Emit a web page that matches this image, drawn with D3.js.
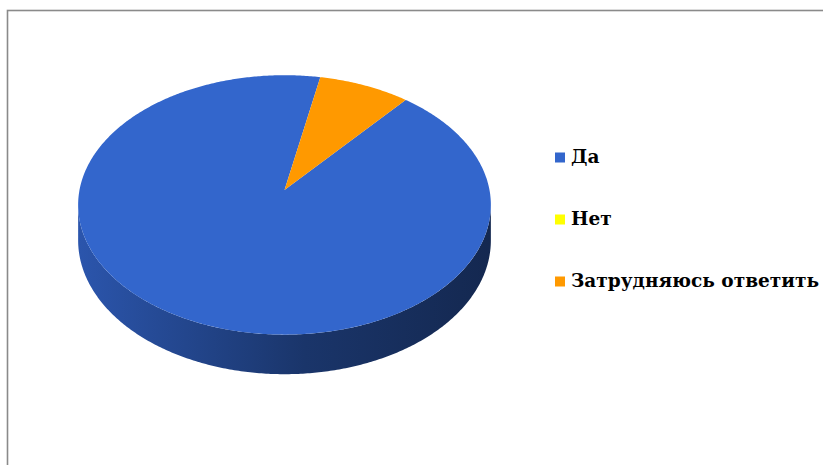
<!DOCTYPE html>
<html>
<head>
<meta charset="utf-8">
<script src="https://cdn.jsdelivr.net/npm/d3@7/dist/d3.min.js"></script>
<style>
  html, body { margin: 0; padding: 0; background: #fff; }
  svg { display: block; }
  .legend-label { font-family: "DejaVu Serif", "Liberation Serif", serif; font-weight: bold; }
</style>
</head>
<body>
<svg id="chart" width="823" height="465"></svg>
<script>
// Survey answers (percent)
const categories = ["Да", "Нет", "Затрудняюсь ответить"];
const values = [92, 0, 8];
const colors = ["#3366CC", "#FFFF00", "#FF9900"];
const sideColors = [["#2B55AC", "#142850"], ["#C8C800", "#7A7A00"], ["#D07A00", "#7A4800"]];

const W = 823, H = 465;
const svg = d3.select("#chart");

// Frame
svg.append("rect")
  .attr("x", 7.5).attr("y", 10.5)
  .attr("width", W + 20).attr("height", H + 20)
  .attr("fill", "none").attr("stroke", "#8a8a8a").attr("stroke-width", 1.6);

// 3D pie projection: unit disc -> screen with tilt and mild perspective
const cx = 284.5, cy = 190;
const s = 205, st = 128, k = 0.115, depth = 35;
function proj(a, dz) {
  const u = Math.sin(a), v = -Math.cos(a);
  const d = 1 - k * v;
  return [cx + s * u / d, cy + st * v / d + (dz ? depth / d : 0)];
}
const center = [cx, cy];

const pie = d3.pie().sort(null).value(d => d)
  .startAngle(40 * Math.PI / 180).endAngle(40 * Math.PI / 180 + 2 * Math.PI);
const arcs = pie(values);

function arcPoints(a0, a1, dz) {
  const n = Math.max(2, Math.ceil(Math.abs(a1 - a0) / 0.01));
  return d3.range(n + 1).map(i => proj(a0 + (a1 - a0) * i / n, dz));
}

const line = d3.line();

// Gradients for the side walls
const defs = svg.append("defs");
arcs.forEach((d, i) => {
  const g = defs.append("linearGradient")
    .attr("id", "side" + i)
    .attr("gradientUnits", "userSpaceOnUse")
    .attr("x1", cx - s).attr("y1", 0).attr("x2", cx + s).attr("y2", 0);
  g.append("stop").attr("offset", "0%").attr("stop-color", sideColors[i][0]);
  g.append("stop").attr("offset", "55%").attr("stop-color", d3.interpolateRgb(sideColors[i][0], sideColors[i][1])(0.72));
  g.append("stop").attr("offset", "100%").attr("stop-color", sideColors[i][1]);
});

// Front-facing range of the rim
const f0 = Math.acos(-k), f1 = 2 * Math.PI - Math.acos(-k);

const sides = svg.append("g");
arcs.forEach((d, i) => {
  if (d.endAngle - d.startAngle <= 0) return;
  [0, 2 * Math.PI].forEach(off => {
    const a0 = Math.max(d.startAngle, f0 + off), a1 = Math.min(d.endAngle, f1 + off);
    if (a1 <= a0) return;
    const pts = arcPoints(a0, a1, false).concat(arcPoints(a1, a0, true));
    sides.append("path")
      .attr("d", line(pts) + "Z")
      .attr("fill", `url(#side${i})`);
  });
});

// Top faces
const tops = svg.append("g");
arcs.forEach((d, i) => {
  if (d.endAngle - d.startAngle <= 0) return;
  const pts = [center].concat(arcPoints(d.startAngle, d.endAngle, false));
  tops.append("path")
    .attr("d", line(pts) + "Z")
    .attr("fill", colors[i]);
});

// Legend
const legendY = d3.scalePoint().domain(categories).range([157.5, 281.5]);
const legend = svg.append("g");
categories.forEach((c, i) => {
  const y = legendY(c);
  legend.append("rect")
    .attr("x", 555).attr("y", y - 5)
    .attr("width", 10).attr("height", 10)
    .attr("fill", colors[i]);
  legend.append("text")
    .attr("class", "legend-label")
    .attr("x", 571).attr("y", y + 5.5)
    .attr("font-size", "18.5px")
    .attr("fill", "#000")
    .text(c);
});
</script>
</body>
</html>
